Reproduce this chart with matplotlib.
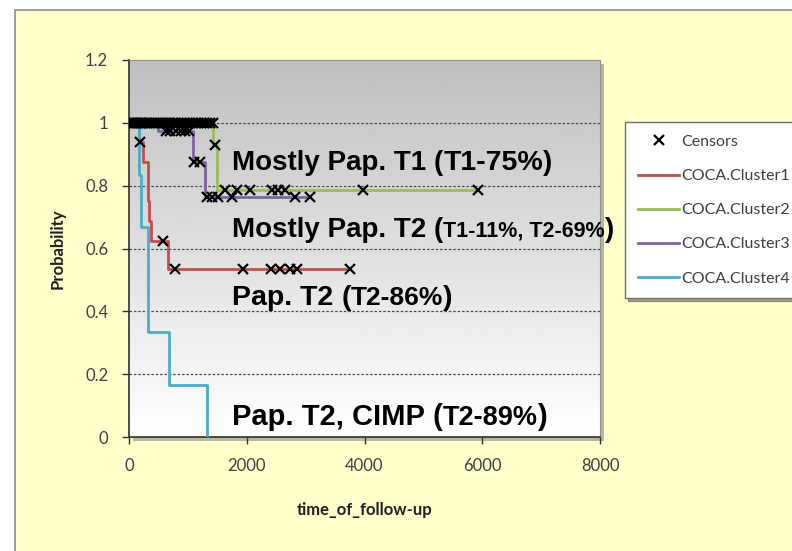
import numpy as np
import matplotlib
matplotlib.use("Agg")
import matplotlib.pyplot as plt
import matplotlib.transforms as mtransforms
from matplotlib.patches import Rectangle
from matplotlib.lines import Line2D

# Kaplan-Meier step curves: event times and survival level from each time on
c1_t = [0, 170, 240, 320, 330, 340, 380, 660, 3750]
c1_s = [1.0, 0.9375, 0.875, 0.8125, 0.75, 0.6875, 0.625, 0.5357, 0.5357]
c2_t = [0, 1430, 1500, 5930]
c2_s = [1.0, 0.93, 0.786, 0.786]
c3_t = [0, 500, 1090, 1290, 3075]
c3_s = [1.0, 0.975, 0.876, 0.765, 0.765]
c4_t = [0, 170, 200, 320, 330, 680, 1330]
c4_s = [1.0, 0.833, 0.667, 0.5, 0.333, 0.167, 0.0]

# Censoring times per cluster
c1_cens = [180, 580, 780, 1940, 2410, 2560, 2740, 2850, 3750]
c2_cens = [0, 20, 45, 70, 95, 120, 150, 180, 210, 240, 270, 300, 340, 380,
           420, 460, 500, 540, 580, 620, 660, 700, 740, 780, 830, 880, 930,
           980, 1030, 1080, 1130, 1180, 1230, 1280, 1330, 1380, 1420, 1460,
           1630, 1835, 2055, 2430, 2530, 2650, 3975, 5930]
c3_cens = [620, 700, 800, 880, 950, 1020, 1100, 1200, 1325, 1410, 1510,
           1750, 2820, 3075]
c4_cens = []

series = ["COCA.Cluster1", "COCA.Cluster2", "COCA.Cluster3", "COCA.Cluster4"]
colors = ["#C0504D", "#9BBB59", "#8064A2", "#4BACC6"]

x_ticks = [0, 2000, 4000, 6000, 8000]
y_ticks = [0, 0.2, 0.4, 0.6, 0.8, 1.0, 1.2]
y_tick_labels = ["0", "0.2", "0.4", "0.6", "0.8", "1", "1.2"]

annotations = [
    (1750, 0.85, [("Mostly Pap. T1 ", 20), ("(", 20), ("T1-75%", 20.5), (")", 20)]),
    (1750, 0.637, [("Mostly Pap. T2 ", 20), ("(", 20), ("T1-11%, T2-69%", 15.5), (")", 20)]),
    (1750, 0.42, [("Pap. T2 ", 20.5), ("(", 20.5), ("T2-86%", 19), (")", 20.5)]),
    (1750, 0.038, [("Pap. T2, CIMP ", 21), ("(", 21), ("T2-89%", 19.5), (")", 21)]),
]

W, H = 792, 551
fig = plt.figure(figsize=(W / 100, H / 100), dpi=100)
fig.patch.set_facecolor("white")

# Pale yellow chart area with its grey frame
fig.patches.append(Rectangle((15 / W, -0.05), 1.1, 1 - 10 / H + 0.05,
                             transform=fig.transFigure, facecolor="#FFFFCC",
                             edgecolor="#8C8C8C", lw=1.2, zorder=-3))

ax_l, ax_r, ax_t, ax_b = 129, 600, 60, 437
pos = [ax_l / W, 1 - ax_b / H, (ax_r - ax_l) / W, (ax_b - ax_t) / H]
# Drop shadow behind the plot area
fig.patches.append(Rectangle((pos[0] + 4 / W, pos[1] - 4 / H), pos[2], pos[3],
                             transform=fig.transFigure, facecolor="#B8B8A0",
                             edgecolor="none", zorder=-2))
ax = fig.add_axes(pos)

# Grey-to-white vertical gradient in the plot area (dark at the top)
grad = np.linspace(0.75, 1.0, 256).reshape(-1, 1)
ax.imshow(grad, extent=[0, 8000, 0, 1.2], aspect="auto", cmap="gray",
          vmin=0, vmax=1, zorder=0, origin="upper")
ax.set_xlim(0, 8000)
ax.set_ylim(0, 1.2)

for yv in y_ticks[1:-1]:
    ax.axhline(yv, color="#4A4A4A", lw=0.9, ls=(0, (2, 1.5)), zorder=1)

def step_at(ts, ss, tq):
    idx = np.searchsorted(ts, tq, side="right") - 1
    return np.asarray(ss)[idx]

curves = [(c1_t, c1_s, c1_cens), (c2_t, c2_s, c2_cens),
          (c3_t, c3_s, c3_cens), (c4_t, c4_s, c4_cens)]
# draw order so that the early drops of clusters 1 and 4 stay on top
for i in [1, 2, 0, 3]:
    ts, ss, _ = curves[i]
    ax.step(ts, ss, where="post", color=colors[i], lw=2.0, zorder=3)

for i, (ts, ss, cens) in enumerate(curves):
    if cens:
        ax.plot(cens, step_at(ts, ss, cens), ls="none", marker="x",
                color="black", ms=7, mew=1.6, zorder=4)

tick_font = dict(family=["Lato", "DejaVu Sans"], size=12, color="#404040")
ax.set_xticks(x_ticks)
ax.set_xticklabels([str(v) for v in x_ticks], **tick_font)
ax.set_yticks(y_ticks)
ax.set_yticklabels(y_tick_labels, **tick_font)
ax.tick_params(direction="out", length=5, width=1.0, color="#303030")
ax.tick_params(axis="y", pad=10)
ax.tick_params(axis="x", pad=10)

for s in ["left", "bottom"]:
    ax.spines[s].set_color("#303030")
    ax.spines[s].set_linewidth(1.2)
for s in ["top", "right"]:
    ax.spines[s].set_color("#909090")
    ax.spines[s].set_linewidth(0.8)

ax.set_xlabel("time_of_follow-up", family=["Lato", "DejaVu Sans"],
              fontweight="bold", size=12, color="#202020", labelpad=20)
ax.set_ylabel("Probability", family=["Lato", "DejaVu Sans"],
              fontweight="bold", size=12, color="#202020", labelpad=14)

# Multi-size bold labels, laid out piece by piece
fig.canvas.draw()
renderer = fig.canvas.get_renderer()
for x0, y0, parts in annotations:
    tr = ax.transData
    for txt, size in parts:
        t = ax.text(x0, y0, txt, transform=tr, fontsize=size,
                    fontweight="bold", family=["Liberation Sans", "DejaVu Sans"],
                    va="baseline", ha="left", color="black", clip_on=False,
                    zorder=5)
        bb = t.get_window_extent(renderer)
        tr = mtransforms.offset_copy(t.get_transform(), fig=fig,
                                     x=bb.width, units="dots")

handles = [Line2D([], [], ls="none", marker="x", color="black", ms=7, mew=1.6)]
handles += [Line2D([], [], color=c, lw=2.0) for c in colors]
labels = ["Censors"] + series
leg = fig.legend(handles, labels, loc="upper left",
                 bbox_to_anchor=(625 / W, 1 - 122 / H),
                 prop=dict(family=["Lato", "DejaVu Sans"], size=11.5),
                 frameon=True, fancybox=False, shadow=True,
                 labelspacing=1.25, handlelength=2.6, handletextpad=0.1,
                 borderpad=0.8, borderaxespad=0)
leg.get_frame().set_edgecolor("#707070")
leg.get_frame().set_linewidth(1.0)
for t in leg.get_texts():
    t.set_color("#404040")

fig.savefig("out.png", dpi=100)
